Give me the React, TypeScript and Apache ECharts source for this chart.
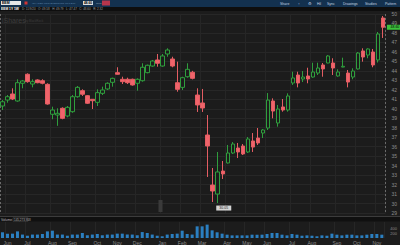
import { useEffect, useRef } from "react";
import * as echarts from "echarts";

const weeks = [
  "2019-05-27", "2019-06-03", "2019-06-10", "2019-06-17", "2019-06-24", "2019-07-01", "2019-07-08", "2019-07-15",
  "2019-07-22", "2019-07-29", "2019-08-05", "2019-08-12", "2019-08-19", "2019-08-26", "2019-09-02", "2019-09-09",
  "2019-09-16", "2019-09-23", "2019-09-30", "2019-10-07", "2019-10-14", "2019-10-21", "2019-10-28", "2019-11-04",
  "2019-11-11", "2019-11-18", "2019-11-25", "2019-12-02", "2019-12-09", "2019-12-16", "2019-12-23", "2019-12-30",
  "2020-01-06", "2020-01-13", "2020-01-20", "2020-01-27", "2020-02-03", "2020-02-10", "2020-02-17", "2020-02-24",
  "2020-03-02", "2020-03-09", "2020-03-16", "2020-03-23", "2020-03-30", "2020-04-06", "2020-04-13", "2020-04-20",
  "2020-04-27", "2020-05-04", "2020-05-11", "2020-05-18", "2020-05-25", "2020-06-01", "2020-06-08", "2020-06-15",
  "2020-06-22", "2020-06-29", "2020-07-06", "2020-07-13", "2020-07-20", "2020-07-27", "2020-08-03", "2020-08-10",
  "2020-08-17", "2020-08-24", "2020-08-31", "2020-09-07", "2020-09-14", "2020-09-21", "2020-09-28", "2020-10-05",
  "2020-10-12", "2020-10-19", "2020-10-26", "2020-11-02", "2020-11-09",
];

const opens = [
  40.29, 40.92, 41.56, 40.82, 42.69, 43.64, 42.61, 43.04, 42.96, 42.58,
  39.42, 39.34, 40.05, 39.24, 39.69, 41.27, 41.91, 41.38, 41.0, 40.68,
  41.63, 42.09, 42.79, 43.81, 43.11, 43.11, 43.11, 42.69, 42.96, 43.81,
  44.51, 45.15, 44.51, 45.78, 45.25, 42.75, 42.26, 43.38, 43.85, 41.45,
  40.61, 37.23, 31.95, 31.0, 33.43, 34.28, 35.33, 35.86, 36.07, 35.44,
  36.6, 36.91, 37.44, 37.97, 40.82, 38.5, 40.19, 39.87, 42.72, 43.56,
  43.14, 43.46, 43.35, 43.77, 44.62, 44.83, 44.83, 43.46, 44.4, 43.77,
  43.35, 44.2, 46.1, 45.67, 45.99, 45.15, 49.58,
];
const closes = [
  40.74, 41.27, 41.03, 42.75, 42.93, 42.86, 42.86, 42.75, 42.69, 40.5,
  39.87, 39.52, 38.99, 40.15, 41.27, 42.26, 41.53, 40.58, 40.85, 41.7,
  41.98, 42.69, 43.21, 43.64, 42.86, 42.75, 42.51, 43.11, 44.38, 44.59,
  45.04, 44.8, 45.57, 46.2, 44.51, 42.05, 43.28, 44.16, 43.21, 40.4,
  40.08, 36.07, 31.32, 33.33, 33.12, 35.33, 36.28, 35.44, 35.23, 36.81,
  35.96, 36.39, 37.76, 40.92, 39.76, 39.97, 39.87, 41.35, 43.25, 42.72,
  43.35, 43.14, 43.88, 44.3, 44.2, 45.57, 44.3, 43.88, 44.48, 42.82,
  43.98, 45.88, 45.46, 46.31, 44.62, 47.89, 48.6,
];
const lows = [
  39.87, 40.64, 40.92, 40.74, 42.16, 42.75, 42.26, 42.69, 42.58, 40.43,
  38.89, 38.2, 38.89, 39.1, 39.58, 41.17, 41.35, 40.5, 39.97, 40.29,
  41.45, 41.98, 42.33, 43.6, 42.61, 42.61, 42.44, 41.91, 42.86, 43.74,
  44.44, 44.44, 44.44, 45.49, 44.38, 41.8, 41.98, 43.28, 43.1, 39.66,
  39.66, 32.8, 30.16, 30.05, 32.59, 34.22, 35.23, 34.8, 35.12, 35.33,
  35.44, 36.18, 36.91, 37.76, 38.99, 38.11, 39.69, 39.69, 42.51, 42.26,
  42.82, 42.69, 43.28, 43.56, 43.38, 44.8, 43.56, 43.38, 44.38, 42.26,
  43.11, 44.14, 44.97, 45.33, 44.38, 44.88, 47.47,
];
const highs = [
  40.92, 41.45, 42.16, 43.11, 43.04, 43.74, 43.11, 43.11, 43.11, 42.69,
  40.22, 40.05, 40.15, 40.29, 41.45, 42.4, 42.05, 41.45, 41.03, 42.05,
  42.33, 42.79, 43.28, 44.38, 43.38, 43.28, 43.18, 43.21, 44.8, 44.66,
  45.15, 45.78, 45.78, 46.38, 45.49, 44.97, 43.38, 44.8, 44.0, 42.16,
  42.09, 39.34, 33.75, 35.44, 34.49, 36.18, 36.49, 36.39, 36.28, 37.02,
  37.44, 37.97, 37.86, 41.66, 41.1, 40.4, 41.03, 41.63, 43.91, 43.91,
  43.98, 44.33, 44.86, 44.86, 44.83, 45.67, 45.33, 44.16, 45.39, 44.09,
  44.27, 45.99, 46.38, 46.38, 46.31, 48.1, 49.79,
];
const volumes = [
  250, 190, 190, 290, 150, 100, 150, 150, 175, 290,
  320, 150, 150, 100, 150, 150, 220, 120, 150, 175,
  120, 150, 150, 190, 190, 150, 150, 120, 260, 220,
  150, 100, 75, 150, 175, 190, 320, 175, 150, 510,
  510, 585, 335, 250, 190, 145, 115, 115, 115, 115,
  145, 145, 145, 175, 220, 220, 145, 115, 175, 145,
  100, 115, 100, 75, 115, 100, 190, 145, 115, 145,
  145, 115, 115, 145, 175, 175, 145,
];

const monthNames = ["Jan", "Feb", "Mar", "Apr", "May", "Jun", "Jul", "Aug", "Sep", "Oct", "Nov", "Dec"];
const priceMin = 29;
const priceMax = 50;
const volumeMax = 700;
const volumeLabels = [200, 400];

const FONT = "Liberation Sans, Arial, sans-serif";

export default function App() {
  const ref = useRef<HTMLDivElement>(null);

  useEffect(() => {
    if (!ref.current) return;
    const chart = echarts.init(ref.current, null, { renderer: "svg" });
    const candles = weeks.map((_, i) => [opens[i], closes[i], lows[i], highs[i]]);
    const monthStart = new Set<number>();
    weeks.forEach((w, i) => {
      if (i > 0 && w.slice(5, 7) !== weeks[i - 1].slice(5, 7)) monthStart.add(i);
    });
    const yearStart = weeks.findIndex((w, i) => i > 0 && w.slice(0, 4) !== weeks[i - 1].slice(0, 4));
    const last = closes.length - 1;
    const lastClose = closes[last];

    const hdrText = (x: number, y: number, text: string, color: string, size = 3.5, weight: any = "normal") => ({
      type: "text",
      x,
      y,
      z: 101,
      style: { text, fill: color, fontSize: size, fontFamily: FONT, fontWeight: weight, verticalAlign: "middle" },
    });

    chart.setOption({
      animation: false,
      backgroundColor: "#1c1c1c",
      textStyle: { fontFamily: FONT },
      grid: [
        { left: 0, right: 13, top: 14, height: 199 },
        { left: 0, right: 13, top: 222, height: 16 },
      ],
      xAxis: [
        {
          type: "category",
          data: weeks,
          gridIndex: 0,
          boundaryGap: true,
          axisLine: { show: false },
          axisTick: { show: false },
          axisLabel: { show: false },
          splitLine: {
            show: true,
            interval: (i: number) => monthStart.has(i),
            lineStyle: { color: "#262626", width: 1 },
          },
        },
        {
          type: "category",
          data: weeks,
          gridIndex: 0,
          position: "bottom",
          boundaryGap: true,
          axisLine: { show: false },
          axisTick: { show: false },
          axisLabel: { show: false },
          splitLine: {
            show: true,
            interval: (i: number) => i === yearStart,
            lineStyle: { color: "#6a6a6a", width: 1, type: [2, 2] },
          },
        },
        {
          type: "category",
          data: weeks,
          gridIndex: 1,
          boundaryGap: true,
          axisLine: { show: false },
          axisTick: { show: false },
          axisLabel: {
            show: true,
            interval: (i: number) => monthStart.has(i),
            formatter: (v: string) => monthNames[Number(v.slice(5, 7)) - 1],
            fontSize: 5,
            color: "#8a8a8a",
            margin: 2,
          },
          splitLine: {
            show: true,
            interval: (i: number) => monthStart.has(i),
            lineStyle: { color: "#262626", width: 1 },
          },
        },
      ],
      yAxis: [
        {
          type: "value",
          gridIndex: 0,
          position: "right",
          min: priceMin,
          max: priceMax,
          interval: 1,
          axisLine: { show: false },
          axisTick: { show: false },
          axisLabel: { fontSize: 5, color: "#8c8c8c", margin: 6 },
          splitLine: { show: true, lineStyle: { color: "#272727", width: 1 } },
        },
        {
          type: "value",
          gridIndex: 1,
          position: "right",
          min: 0,
          max: volumeMax,
          interval: 200,
          axisLine: { show: false },
          axisTick: { show: false },
          axisLabel: {
            fontSize: 4,
            color: "#8c8c8c",
            margin: 6,
            formatter: (v: number) => (volumeLabels.includes(v) ? String(v) : ""),
          },
          splitLine: { show: false },
        },
      ],
      series: [
        {
          type: "candlestick",
          xAxisIndex: 0,
          yAxisIndex: 0,
          data: candles,
          barWidth: 4,
          itemStyle: {
            color: "#1c1c1c",
            color0: "#f0646b",
            borderColor: "#2f9e3d",
            borderColor0: "#e45d63",
            borderWidth: 1,
          },
          markPoint: {
            silent: true,
            data: [
              {
                type: "min",
                valueDim: "lowest",
                symbol: "rect",
                symbolSize: [15, 5],
                symbolOffset: [6, 5],
                itemStyle: { color: "#d4d4d4" },
                label: {
                  show: true,
                  formatter: (p: any) => Number(p.value).toFixed(2),
                  fontSize: 3.5,
                  color: "#222",
                },
              },
              {
                coord: [weeks[last], lastClose],
                value: lastClose,
                symbol: "rect",
                symbolSize: [16, 5],
                symbolOffset: [12, 0],
                itemStyle: { color: "#3cc13c" },
                label: {
                  show: true,
                  formatter: lastClose.toFixed(2),
                  fontSize: 3.5,
                  color: "#000",
                },
              },
            ],
          },
        },
        {
          type: "bar",
          xAxisIndex: 2,
          yAxisIndex: 1,
          data: volumes,
          barWidth: 3,
          itemStyle: { color: "#2b7fc0" },
        },
      ],
      graphic: [
        { type: "rect", z: 100, shape: { x: 0, y: 0, width: 400, height: 7 }, style: { fill: "#13314f" } },
        { type: "rect", z: 100, shape: { x: 0, y: 7, width: 400, height: 4 }, style: { fill: "#0e0e0e" } },
        { type: "rect", z: 101, shape: { x: 1, y: 1, width: 20, height: 4 }, style: { fill: "#e6e6e6" } },
        hdrText(2, 3, "EEM", "#000", 3.5, "bold"),
        { type: "rect", z: 101, shape: { x: 24.5, y: 1.5, width: 3, height: 3 }, style: { fill: "#d03535" } },
        hdrText(32, 3, "ISHARES MSCI EMERGING MKT ETF", "#5f86ab", 2.5),
        { type: "rect", z: 101, shape: { x: 83, y: 1, width: 10, height: 4 }, style: { fill: "#dcdcdc" } },
        hdrText(84, 3, lastClose.toFixed(2), "#000", 3.2, "bold"),
        hdrText(96, 3, "Gold", "#9aa8b5", 2.5),
        { type: "rect", z: 101, shape: { x: 102, y: 0.5, width: 8, height: 5 }, style: { fill: "#b8364c" } },
        hdrText(280, 3.5, "Share", "#c8d4e0"),
        hdrText(298, 3.5, "\u2191", "#c8d4e0"),
        hdrText(308, 3.5, "\u2699", "#c8d4e0"),
        hdrText(317, 3.5, "Hil", "#c8d4e0"),
        hdrText(327, 3.5, "Sync", "#c8d4e0"),
        hdrText(343, 3.5, "Drawings", "#c8d4e0"),
        hdrText(365, 3.5, "Studies", "#c8d4e0"),
        hdrText(385, 3.5, "Pattern", "#c8d4e0"),
        hdrText(1, 9, "EEM 1Y 1W", "#ffffff", 3.3, "bold"),
        hdrText(22, 9, "D: 11/9/20   O: 49.58   H: 49.79   L: 47.47   C: 48.60   R: 2.32", "#9a9a9a", 3),
        hdrText(2, 20, "iShares", "#3d3d3d", 7),
        hdrText(25, 21, "by BlackRock", "#3d3d3d", 3),
        { type: "rect", z: 90, shape: { x: 158.5, y: 200, width: 4, height: 12 }, style: { fill: "#3a3a3a" } },
        { type: "rect", z: 100, shape: { x: 0, y: 216.5, width: 400, height: 5 }, style: { fill: "#101010" } },
        { type: "line", z: 101, shape: { x1: 0, y1: 216.5, x2: 400, y2: 216.5 }, style: { stroke: "#3c3c3c", lineWidth: 1 } },
        hdrText(1, 219.5, "Volume", "#bbbbbb", 3.3),
        { type: "rect", z: 101, shape: { x: 13, y: 217.8, width: 15, height: 3.5 }, style: { fill: "none", stroke: "#555", lineWidth: 0.5 } },
        hdrText(14, 219.5, "145,273,918", "#aaaaaa", 3),
      ],
    });

    return () => chart.dispose();
  }, []);

  return <div ref={ref} style={{ position: "fixed", left: 0, top: 0, width: 400, height: 245 }} />;
}
